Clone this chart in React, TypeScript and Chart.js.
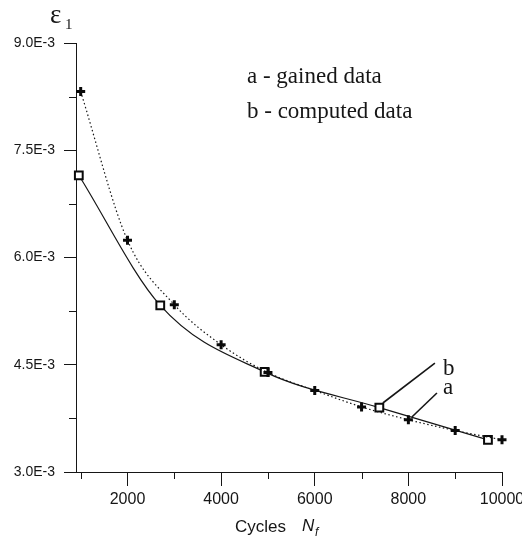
import React, { useEffect, useRef } from 'react';
import { Chart, registerables } from 'chart.js';

Chart.register(...registerables);

// ---- data ----
const gainedCycles = [1000, 2000, 3000, 4000, 5000, 6000, 7000, 8000, 9000, 10000];
const gainedStrain = [8.32e-3, 6.24e-3, 5.34e-3, 4.78e-3, 4.39e-3, 4.14e-3, 3.91e-3, 3.73e-3, 3.58e-3, 3.45e-3];
const computedCycles = [960, 2700, 4930, 7380, 9700];
const computedStrain = [7.15e-3, 5.33e-3, 4.4e-3, 3.9e-3, 3.45e-3];

const xTickValues = [2000, 4000, 6000, 8000, 10000];
const xTickLabels = ['2000', '4000', '6000', '8000', '10000'];
const xMinorTicks = [1000, 3000, 5000, 7000, 9000];
const yTickValues = [3.0e-3, 4.5e-3, 6.0e-3, 7.5e-3, 9.0e-3];
const yTickLabels = ['3.0E-3', '4.5E-3', '6.0E-3', '7.5E-3', '9.0E-3'];
const yMinorTicks = [3.75e-3, 5.25e-3, 6.75e-3, 8.25e-3];
const legendLines = ['a - gained data', 'b - computed data'];
const seriesTags = ['a', 'b'];

const INK = '#161616';
const SANS = '"Liberation Sans", Arial, sans-serif';
const SERIF = '"Liberation Serif", "Times New Roman", serif';

const decorPlugin = {
  id: 'decor',
  afterDraw(chart: any) {
    const { ctx, chartArea, scales } = chart;
    const x = scales.x;
    const y = scales.y;
    ctx.save();
    ctx.strokeStyle = INK;
    ctx.fillStyle = INK;
    ctx.lineWidth = 1;
    // minor ticks
    xMinorTicks.forEach((v) => {
      const px = Math.round(x.getPixelForValue(v)) + 0.5;
      ctx.beginPath();
      ctx.moveTo(px, chartArea.bottom);
      ctx.lineTo(px, chartArea.bottom + 7);
      ctx.stroke();
    });
    yMinorTicks.forEach((v) => {
      const py = Math.round(y.getPixelForValue(v)) + 0.5;
      ctx.beginPath();
      ctx.moveTo(chartArea.left - 7, py);
      ctx.lineTo(chartArea.left, py);
      ctx.stroke();
    });

    // legend text
    ctx.textBaseline = 'alphabetic';
    ctx.textAlign = 'left';
    ctx.font = `23px ${SERIF}`;
    ctx.fillText(legendLines[0], 247, 83);
    ctx.fillText(legendLines[1], 247, 118);

    // y-axis title epsilon_1
    ctx.font = `27px ${SERIF}`;
    ctx.fillText('ε', 50, 23);
    ctx.font = `15px ${SERIF}`;
    ctx.fillText('1', 65, 29);

    // x-axis title
    ctx.font = `17px ${SANS}`;
    ctx.fillText('Cycles', 235, 532);
    ctx.font = `italic 17px ${SANS}`;
    ctx.fillText('N', 302, 531);
    ctx.font = `italic 12px ${SANS}`;
    ctx.fillText('f', 315, 536);

    // leader lines with tags (anchored in data space)
    const leaders = [
      { tag: seriesTags[1], from: [7455, 3.965e-3], to: [8567, 4.524e-3], label: [8738, 4.357e-3] },
      { tag: seriesTags[0], from: [8075, 3.769e-3], to: [8610, 4.105e-3], label: [8738, 4.091e-3] },
    ];
    ctx.lineWidth = 1.6;
    ctx.font = `23px ${SERIF}`;
    leaders.forEach((l) => {
      ctx.beginPath();
      ctx.moveTo(x.getPixelForValue(l.from[0]), y.getPixelForValue(l.from[1]));
      ctx.lineTo(x.getPixelForValue(l.to[0]), y.getPixelForValue(l.to[1]));
      ctx.stroke();
      ctx.fillText(l.tag, x.getPixelForValue(l.label[0]), y.getPixelForValue(l.label[1]));
    });
    ctx.restore();
  },
};

export default function App() {
  const canvasRef = useRef<HTMLCanvasElement | null>(null);

  useEffect(() => {
    if (!canvasRef.current) return;
    const chart = new Chart(canvasRef.current, {
      type: 'scatter',
      data: {
        datasets: [
          {
            label: 'a',
            data: gainedCycles.map((c, i) => ({ x: c, y: gainedStrain[i] })),
            showLine: true,
            borderColor: INK,
            borderWidth: 1.2,
            borderDash: [1.5, 2.5],
            cubicInterpolationMode: 'monotone',
            pointStyle: 'cross',
            pointRadius: 4.5,
            pointBorderWidth: 3,
            pointBorderColor: '#0a0a0a',
            pointBackgroundColor: '#0a0a0a',
            clip: false,
          },
          {
            label: 'b',
            data: computedCycles.map((c, i) => ({ x: c, y: computedStrain[i] })),
            showLine: true,
            borderColor: INK,
            borderWidth: 1.2,
            cubicInterpolationMode: 'monotone',
            pointStyle: 'rect',
            pointRadius: 5.5,
            pointBorderWidth: 2,
            pointBorderColor: '#0a0a0a',
            pointBackgroundColor: '#ffffff',
            clip: false,
          },
        ],
      } as any,
      options: {
        responsive: false,
        animation: false,
        devicePixelRatio: 1,
        layout: { padding: { top: 43, right: 20, left: 0, bottom: 0 } },
        plugins: { legend: { display: false }, tooltip: { enabled: false } },
        scales: {
          x: {
            type: 'linear',
            min: 900,
            max: 10000,
            afterBuildTicks: (s: any) => {
              s.ticks = xTickValues.map((v) => ({ value: v }));
            },
            afterFit: (s: any) => {
              s.height = 70;
              s.paddingLeft = 0;
              s.paddingRight = 0;
            },
            ticks: {
              callback: (_v: any, i: number) => xTickLabels[i],
              font: { family: SANS, size: 16 },
              color: INK,
              padding: 4,
              maxRotation: 0,
              autoSkip: false,
            },
            grid: { drawOnChartArea: false, drawTicks: true, tickLength: 14, color: INK, tickWidth: 1 },
            border: { display: true, color: INK, width: 1 },
          },
          y: {
            type: 'linear',
            min: 3.0e-3,
            max: 9.0e-3,
            afterBuildTicks: (s: any) => {
              s.ticks = yTickValues.map((v) => ({ value: v }));
            },
            afterFit: (s: any) => {
              s.width = 76;
              s.paddingTop = 0;
              s.paddingBottom = 0;
            },
            ticks: {
              callback: (_v: any, i: number) => yTickLabels[i],
              font: { family: SANS, size: 14 },
              color: INK,
              padding: 9,
              autoSkip: false,
            },
            grid: { drawOnChartArea: false, drawTicks: true, tickLength: 12, color: INK, tickWidth: 1 },
            border: { display: true, color: INK, width: 1 },
          },
        },
      } as any,
      plugins: [decorPlugin],
    });
    return () => chart.destroy();
  }, []);

  return (
    <div style={{ position: 'absolute', left: 0, top: 0, width: 522, height: 542, background: '#fff' }}>
      <canvas ref={canvasRef} width={522} height={542} style={{ display: 'block' }} />
    </div>
  );
}
